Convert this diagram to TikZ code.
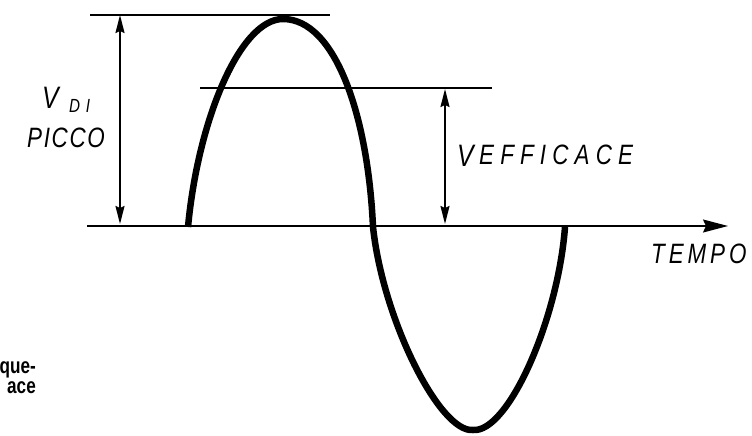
\documentclass[tikz,border=0pt]{standalone}
\usepackage{fontspec}
\newfontfamily\letterfont{Liberation Sans}[FakeStretch=0.8]
\newfontfamily\capfont{Liberation Sans}[FakeStretch=0.78]
\usetikzlibrary{arrows.meta}

\begin{document}
\begin{tikzpicture}[x=1pt,y=-1pt,
  wave/.style={line width=6.5pt,line cap=butt},
  guide/.style={line width=1.4pt},
  dim/.style={line width=1.7pt,{Stealth[length=18pt,width=9pt,inset=2pt]}-{Stealth[length=18pt,width=9pt,inset=2pt]}},
  axis/.style={line width=1.4pt,-{Stealth[length=25pt,width=13pt,inset=3pt]}},
  lbl/.style={inner sep=0pt,anchor=base west,font=\letterfont\itshape\fontsize{28}{28}\selectfont},
  big/.style={inner sep=0pt,anchor=base west,font=\letterfont\itshape\fontsize{31}{31}\selectfont},
  sml/.style={inner sep=0pt,anchor=base west,font=\letterfont\itshape\fontsize{19}{19}\selectfont}]
  \useasboundingbox (0,0) rectangle (752,436);
  % reference levels
  \coordinate (a0) at (87,226);  \coordinate (a1) at (728,226);
  \coordinate (p0) at (90,15);   \coordinate (p1) at (330,15);
  \coordinate (e0) at (200,88);  \coordinate (e1) at (492,88);
  \coordinate (dp0) at (120,15); \coordinate (dp1) at (120,224);
  \coordinate (de0) at (445,89); \coordinate (de1) at (445,224);
  % wave points
  \coordinate (w0) at (188,227);
  \coordinate (wt) at (283,19);
  \coordinate (w1) at (373,227);
  \coordinate (wb) at (473,430);
  \coordinate (w2) at (565,227);
  \draw[guide] (p0) -- (p1);
  \draw[guide] (e0) -- (e1);
  \draw[axis] (a0) -- (a1);
  \draw[dim] (dp0) -- (dp1);
  \draw[dim] (de0) -- (de1);
  \draw[wave] (w0) .. controls (198,120) and (240,19) .. (wt)
              .. controls (335,19) and (368,115) .. (w1)
              .. controls (383,320) and (440,433) .. (wb)
              .. controls (508,433) and (558,320) .. (w2);
  % labels
  \node[big] (vp) at (42,108) {V};
  \node[sml] (di) at (69,112) {\addfontfeature{LetterSpace=30}DI};
  \node[lbl] (picco) at (27,147) {\addfontfeature{LetterSpace=6}PICCO};
  \node[big] (ve) at (457,166) {V};
  \node[lbl] (eff) at (479,164) {\addfontfeature{LetterSpace=22}EFFICACE};
  \node[lbl] (tempo) at (651,263) {\addfontfeature{LetterSpace=14}TEMPO};
  \node[inner sep=0pt,anchor=base east,align=right,font=\capfont\bfseries\fontsize{22}{20}\selectfont] (cap) at (36,393) {que-\\ace};
\end{tikzpicture}
\end{document}
